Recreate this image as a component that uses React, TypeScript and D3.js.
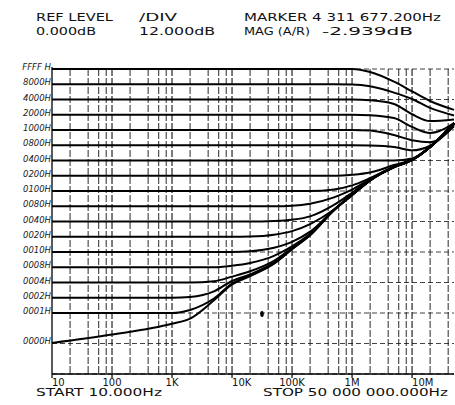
import * as d3 from "d3";

const freqs = [10, 100, 1e3, 2e3, 5e3, 1e4, 2e4, 5e4, 1e5, 2e5, 5e5, 1e6, 2e6, 5e6, 1e7, 2e7, 5e7];

// MAG (A/R) in dB for each attenuator code
const magFFFF = [0, 0, 0, 0, 0, 0, 0, 0, 0, 0, 0, 0, -1.2, -5.0, -8.8, -12.6, -16.1];
const mag8000 = [-6, -6, -6, -6, -6, -6, -6, -6, -6, -6, -6, -6.1, -6.8, -9.3, -11.8, -15.3, -18.3];
const mag4000 = [-12, -12, -12, -12, -12, -12, -12, -12, -12, -12, -12, -12, -12.3, -13.8, -17.8, -20.5, -19.9];
const mag2000 = [-18, -18, -18, -18, -18, -18, -18, -18, -18, -18, -18, -18, -18.2, -19.3, -22.8, -25.2, -21.3];
const mag1000 = [-24, -24, -24, -24, -24, -24, -24, -24, -24, -24, -24, -24, -24.2, -26.0, -28.0, -28.8, -22.0];
const mag0800 = [-30, -30, -30, -30, -30, -30, -30, -30, -30, -30, -30, -30, -30.1, -30.7, -32.0, -30.2, -22.5];
const mag0400 = [-36, -36, -36, -36, -36, -36, -36, -36, -36, -36, -36, -36, -36, -36.0, -35.2, -30.6, -21.6];
const mag0200 = [-42, -42, -42, -42, -42, -42, -42, -42, -42, -42, -42, -41.6, -40.7, -37.8, -35.6, -30.7, -21.5];
const mag0100 = [-48, -48, -48, -48, -48, -48, -48, -48, -48, -48, -47.4, -45.8, -42.9, -38.3, -35.7, -30.7, -21.4];
const mag0080 = [-54, -54, -54, -54, -54, -54, -54, -54, -53.8, -53.0, -50.5, -47.5, -43.3, -38.5, -35.8, -30.7, -21.3];
const mag0040 = [-60, -60, -60, -60, -60, -60, -60, -59.8, -59.3, -58.0, -53.5, -48.7, -43.5, -38.5, -35.8, -30.7, -21.3];
const mag0020 = [-66, -66, -66, -66, -66, -66, -65.9, -65.2, -63.8, -61.0, -55.3, -49.3, -43.6, -38.6, -35.8, -30.7, -21.3];
const mag0010 = [-72, -72, -72, -72, -72, -72, -71.7, -70.3, -68.0, -64.0, -55.4, -49.4, -43.7, -38.6, -35.8, -30.7, -21.3];
const mag0008 = [-78, -78, -78, -78, -78, -77.4, -76.3, -73.5, -69.8, -64.8, -55.5, -49.5, -43.7, -38.6, -35.8, -30.7, -21.3];
const mag0004 = [-84, -84, -84, -84, -83.5, -81.7, -79.6, -75.5, -70.4, -65.1, -55.5, -49.5, -43.8, -38.6, -35.8, -30.7, -21.3];
const mag0002 = [-90, -90, -90, -89.7, -87.5, -83.4, -80.8, -76.2, -70.7, -65.3, -55.5, -49.6, -43.8, -38.6, -35.8, -30.7, -21.3];
const mag0001 = [-96, -96, -96, -94.8, -90.3, -84.4, -81.3, -76.5, -70.8, -65.3, -55.5, -49.6, -43.8, -38.6, -35.8, -30.7, -21.3];
const mag0000 = [-107.8, -104.5, -100.2, -98.2, -91.0, -84.8, -81.5, -76.6, -70.9, -65.4, -55.6, -49.7, -43.9, -38.7, -35.9, -30.8, -21.4];

const codes = ["FFFF H", "8000H", "4000H", "2000H", "1000H", "0800H", "0400H", "0200H", "0100H",
  "0080H", "0040H", "0020H", "0010H", "0008H", "0004H", "0002H", "0001H", "0000H"];
const traces = [magFFFF, mag8000, mag4000, mag2000, mag1000, mag0800, mag0400, mag0200, mag0100,
  mag0080, mag0040, mag0020, mag0010, mag0008, mag0004, mag0002, mag0001, mag0000];

// log grid: decades with lines at 1,2,4,6,8
const decades = [10, 100, 1e3, 1e4, 1e5, 1e6, 1e7];
const decadeLabels = ["10", "100", "1K", "10K", "100K", "1M", "10M"];
const gridMults = [1, 2, 4, 6, 8];
const dbDivs = d3.range(0, -121, -12);

// smudge on the original plot
const inkSpot = [31600, -96.4];

const W = 455;
const H = 405;

export default function App() {
  const x = d3.scaleLog().domain([10, 5e7]).range([52, 454]);
  const y = d3.scaleLinear().domain([0, -120]).range([69, 374]);

  const line = d3
    .line<number>()
    .x((_, i) => x(freqs[i]))
    .y((d) => y(d))
    .curve(d3.curveMonotoneX);

  const gridFreqs = decades
    .flatMap((d) => gridMults.map((m) => d * m))
    .filter((f) => f > 10 && f < 5e7);

  const font = "'DejaVu Sans', sans-serif";

  return (
    <svg
      width={W}
      height={H}
      style={{ position: "absolute", left: 0, top: 0, background: "#fff" }}
      fontFamily={font}
    >
      <rect width={W} height={H} fill="#fff" />

      {/* header */}
      <g fontSize={10} fill="#111">
        <text x={36} y={21} textLength={77} lengthAdjust="spacingAndGlyphs">REF LEVEL</text>
        <text x={139} y={21} textLength={38} lengthAdjust="spacingAndGlyphs">/DIV</text>
        <text x={244} y={21} textLength={197} lengthAdjust="spacingAndGlyphs">MARKER 4 311 677.200Hz</text>
        <text x={36} y={35} textLength={60} lengthAdjust="spacingAndGlyphs">0.000dB</text>
        <text x={139} y={35} textLength={76} lengthAdjust="spacingAndGlyphs">12.000dB</text>
        <text x={244} y={35} textLength={66} lengthAdjust="spacingAndGlyphs">MAG (A/R)</text>
        <text x={322} y={35} textLength={91} lengthAdjust="spacingAndGlyphs">-2.939dB</text>
      </g>

      {/* vertical grid */}
      {gridFreqs.map((f) => (
        <line
          key={f}
          x1={x(f)}
          x2={x(f)}
          y1={y(0)}
          y2={y(-120)}
          stroke="#111"
          strokeWidth={decades.includes(f) ? 1.1 : 0.9}
          strokeDasharray="7,2"
        />
      ))}

      {/* horizontal divisions */}
      {dbDivs.map((d) => (
        <line
          key={d}
          x1={x(10)}
          x2={x(5e7)}
          y1={y(d)}
          y2={y(d)}
          stroke="#111"
          strokeWidth={0.8}
          strokeDasharray="5,3"
        />
      ))}

      {/* frame */}
      <line x1={x(10)} x2={x(10)} y1={y(0) - 2} y2={y(-120)} stroke="#000" strokeWidth={1.3} />
      <line x1={x(10)} x2={x(5e7)} y1={y(-120)} y2={y(-120)} stroke="#000" strokeWidth={1.3} />
      {decades.map((d) => (
        <line key={d} x1={x(d)} x2={x(d)} y1={y(-120)} y2={y(-120) + 4} stroke="#000" strokeWidth={1.2} />
      ))}

      {/* traces */}
      {traces.map((t, i) => (
        <path key={codes[i]} d={line(t) ?? ""} fill="none" stroke="#000" strokeWidth={2} />
      ))}

      <ellipse cx={x(inkSpot[0])} cy={y(inkSpot[1])} rx={1.8} ry={3} fill="#000" />

      {/* handwritten code labels */}
      <g fontSize={8.5} fontStyle="italic" fill="#222" textAnchor="end">
        {traces.map((t, i) => (
          <text key={codes[i]} x={51} y={y(t[0]) + 1}>
            {codes[i]}
          </text>
        ))}
      </g>

      {/* frequency labels */}
      <g fontSize={10} fill="#111">
        {decades.map((d, i) => (
          <text key={d} x={x(d)} y={386} textAnchor={i % 3 === 0 ? "start" : "middle"}>
            {decadeLabels[i]}
          </text>
        ))}
        <text x={36} y={396} textLength={126} lengthAdjust="spacingAndGlyphs">START 10.000Hz</text>
        <text x={263} y={396} textLength={185} lengthAdjust="spacingAndGlyphs">STOP 50 000 000.000Hz</text>
      </g>
    </svg>
  );
}
